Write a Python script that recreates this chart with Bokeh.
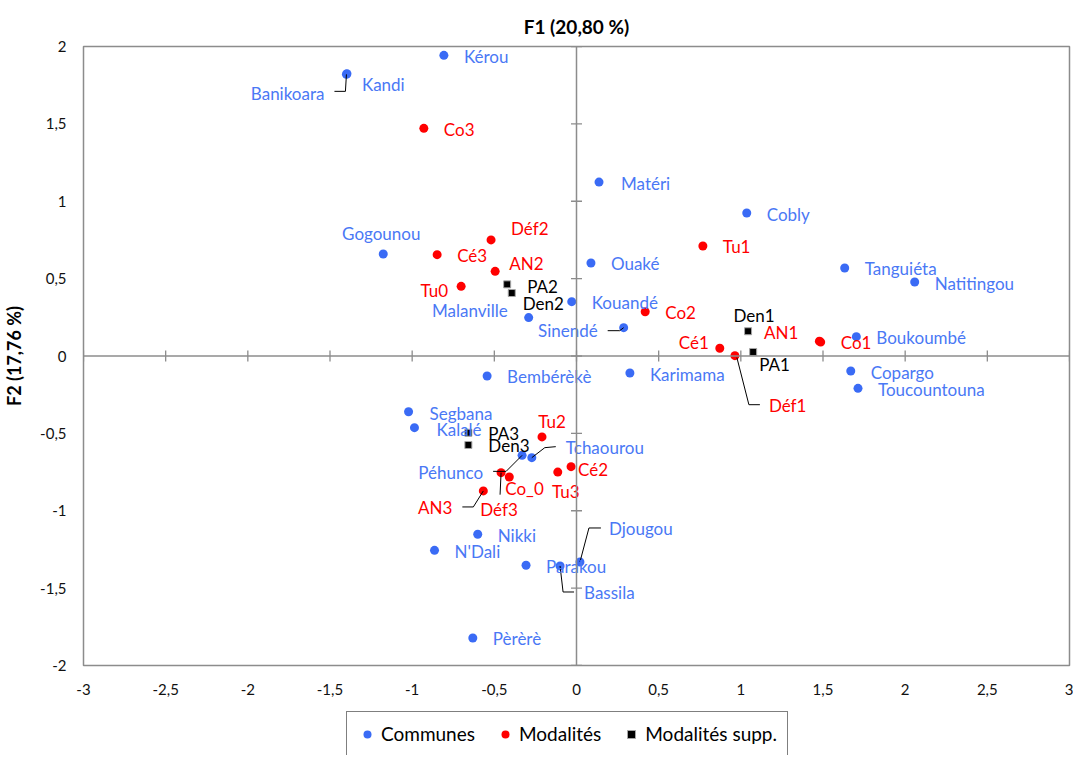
import math
from bokeh.plotting import figure
from bokeh.layouts import column
from bokeh.models import ColumnDataSource, Range1d, FixedTicker, Span, Legend, LegendItem
from bokeh.core.properties import value
from bokeh.embed import file_html
from bokeh.resources import INLINE

# ---------------- data ----------------
communes = ["Kérou", "Kandi", "Banikoara", "Matéri", "Cobly", "Gogounou", "Ouaké",
            "Tanguiéta", "Natitingou", "Kouandé", "Malanville", "Sinendé", "Boukoumbé",
            "Copargo", "Toucountouna", "Bembérèkè", "Karimama", "Segbana", "Kalalé",
            "Péhunco", "Tchaourou", "Djougou", "Parakou", "Bassila", "Nikki", "N'Dali", "Pèrèrè"]
communes_f1 = [-0.807, -1.397, -1.400, 0.137, 1.036, -1.176, 0.088,
               1.632, 2.058, -0.029, -0.291, 0.287, 1.703,
               1.669, 1.713, -0.544, 0.325, -1.022, -0.986,
               -0.331, -0.272, 0.021, -0.307, -0.100, -0.601, -0.864, -0.631]
communes_f2 = [1.943, 1.824, 1.820, 1.124, 0.924, 0.659, 0.601,
               0.569, 0.478, 0.351, 0.248, 0.183, 0.125,
               -0.097, -0.209, -0.129, -0.110, -0.360, -0.463,
               -0.642, -0.657, -1.331, -1.352, -1.357, -1.152, -1.256, -1.822]

modalites = ["Co3", "Déf2", "Cé3", "AN2", "Tu0", "Co2", "Tu1", "Cé1", "Déf1", "AN1", "Co1",
             "Tu2", "Cé2", "Tu3", "Co_0", "Déf3", "AN3"]
modalites_f1 = [-0.929, -0.520, -0.848, -0.495, -0.702, 0.418, 0.769, 0.872, 0.964, 1.478, 1.486,
                -0.210, -0.033, -0.114, -0.409, -0.459, -0.567]
modalites_f2 = [1.471, 0.750, 0.655, 0.547, 0.450, 0.286, 0.711, 0.050, 0.002, 0.096, 0.090,
                -0.523, -0.715, -0.750, -0.782, -0.754, -0.872]

supp = ["PA2", "Den2", "Den1", "PA1", "PA3", "Den3"]
supp_f1 = [-0.422, -0.394, 1.044, 1.075, -0.658, -0.658]
supp_f2 = [0.463, 0.407, 0.160, 0.026, -0.496, -0.575]

x_ticks = [-3, -2.5, -2, -1.5, -1, -0.5, 0, 0.5, 1, 1.5, 2, 2.5, 3]
x_tick_labels = ["-3", "-2,5", "-2", "-1,5", "-1", "-0,5", "0", "0,5", "1", "1,5", "2", "2,5", "3"]
y_ticks = [-2, -1.5, -1, -0.5, 0, 0.5, 1, 1.5, 2]
y_tick_labels = ["-2", "-1,5", "-1", "-0,5", "0", "0,5", "1", "1,5", "2"]

title_text = "F1 (20,80 %)"
y_title_text = "F2 (17,76 %)"
legend_labels = ["Communes", "Modalités", "Modalités supp."]

# ---------------- styles / label placement (screen px) ----------------
FONT = "Lato"
BLUE_DOT = "#3A6BF5"
BLUE_TXT = "#4A78F5"
RED = "#FF0000"
GRAY = "#8C8C8C"

# (dx, dy, align); dy positive = downwards
default_lab = (20, 1, "left")
label_style = {
    "Kérou": (20, 1, "left"), "Kandi": (15, 11, "left"), "Banikoara": (-22, 19, "right"),
    "Matéri": (22, 1, "left"), "Gogounou": (-2, -21, "center"), "Malanville": (-21, -7, "right"),
    "Sinendé": (-26, 3, "right"), "Péhunco": (-39, 17, "right"), "Tchaourou": (34, -10, "left"),
    "Djougou": (29, -33, "left"), "Bassila": (24, 27, "left"), "Segbana": (21, 2, "left"),
    "Kalalé": (22, 2, "left"), "Toucountouna": (20, 1, "left"),
    "Déf2": (20, -11, "left"), "AN2": (14, -8, "left"), "Tu0": (-13, 4, "right"),
    "Cé1": (-11, -6, "right"), "Déf1": (34, 50, "left"), "AN1": (-21, -9, "right"),
    "Co1": (20, 0, "left"), "Tu2": (10, -15, "center"), "Cé2": (7, 3, "left"),
    "Tu3": (8, 19, "center"), "Co_0": (-4, 11, "left"), "Déf3": (-2, 37, "center"),
    "AN3": (-31, 17, "right"),
    "PA2": (20, 2, "left"), "Den2": (11, 10, "left"), "Den1": (6, -16, "center"),
    "PA1": (6, 13, "left"), "PA3": (20, 1, "left"), "Den3": (20, 1, "left"),
}
# leader polylines, px offsets from the point (dy positive = down)
leaders = {
    "Banikoara": [(0, 0), (-1, 17), (-12, 17)],
    "Sinendé": [(0, 0), (-4, 3), (-16, 3)],
    "Péhunco": [(0, 0), (-16, 16), (-29, 16)],
    "Tchaourou": [(0, 0), (13, -10), (24, -11)],
    "Djougou": [(0, 0), (9, -34), (21, -34)],
    "Bassila": [(0, 0), (3, 26), (14, 26)],
    "Déf1": [(2, 2), (14, 49), (25, 49)],
    "Déf3": [(0, 0), (-1, 22)],
    "AN3": [(0, 0), (-10, 16), (-21, 16)],
}

B_LEFT, B_RIGHT, B_TOP, B_BOTTOM = 82, 4, 46, 36
FRAME_W, FRAME_H = 987, 619
X0, X1, Y0, Y1 = -3, 3, -2, 2
PX_X = FRAME_W / (X1 - X0)
PX_Y = FRAME_H / (Y1 - Y0)
TOTAL_W = B_LEFT + FRAME_W + B_RIGHT
LEG_H = 54

p = figure(width=TOTAL_W, height=B_TOP + FRAME_H + B_BOTTOM,
           x_range=Range1d(X0, X1), y_range=Range1d(Y0, Y1),
           min_border_left=B_LEFT, min_border_right=B_RIGHT,
           min_border_top=B_TOP, min_border_bottom=B_BOTTOM,
           output_backend="svg", toolbar_location=None, background_fill_color="white",
           border_fill_color="white")

p.grid.visible = False
p.outline_line_color = GRAY
p.outline_line_width = 1.5

# title
p.title.text = title_text
p.title.align = "center"
p.title.text_font = FONT
p.title.text_font_size = "19px"
p.title.text_font_style = "bold"
p.title.text_color = "#000000"
p.title.standoff = 18

for ax in (p.xaxis[0], p.yaxis[0]):
    ax.axis_line_color = None
    ax.major_tick_line_color = None
    ax.minor_tick_line_color = None
    ax.major_tick_out = 0
    ax.major_tick_in = 0
    ax.major_label_text_font = FONT
    ax.major_label_text_font_size = "15px"
    ax.major_label_text_color = "#111111"

p.xaxis[0].ticker = FixedTicker(ticks=x_ticks)
p.xaxis[0].major_label_overrides = {t: l for t, l in zip(x_ticks, x_tick_labels)}
p.xaxis[0].major_label_standoff = 18
p.yaxis[0].ticker = FixedTicker(ticks=y_ticks)
p.yaxis[0].major_label_overrides = {t: l for t, l in zip(y_ticks, y_tick_labels)}
p.yaxis[0].major_label_standoff = 17
p.yaxis[0].axis_label = y_title_text
p.yaxis[0].axis_label_text_font = FONT
p.yaxis[0].axis_label_text_font_size = "18px"
p.yaxis[0].axis_label_text_font_style = "bold"
p.yaxis[0].axis_label_text_color = "#000000"
p.yaxis[0].axis_label_standoff = 12

# centre axes with crossing ticks
p.add_layout(Span(location=0, dimension="height", line_color=GRAY, line_width=1.5))
p.add_layout(Span(location=0, dimension="width", line_color=GRAY, line_width=1.5))
p.scatter(x=x_ticks, y=[0] * len(x_ticks), marker="dash", size=11, angle=math.pi / 2,
          line_color=GRAY, line_width=1.3)
p.scatter(x=[0] * len(y_ticks), y=y_ticks, marker="dash", size=11, angle=0,
          line_color=GRAY, line_width=1.3)


def make_source(names, xs, ys):
    dx, dy, al = [], [], []
    for n in names:
        s = label_style.get(n, default_lab)
        dx.append(s[0]); dy.append(s[1]); al.append(s[2])
    return ColumnDataSource(dict(x=xs, y=ys, name=names, dx=dx, dy=dy, align=al))


src_c = make_source(communes, communes_f1, communes_f2)
src_m = make_source(modalites, modalites_f1, modalites_f2)
src_s = make_source(supp, supp_f1, supp_f2)

STY_C = dict(marker="circle", size=9, fill_color=BLUE_DOT, line_color=None)
STY_M = dict(marker="circle", size=9, fill_color=RED, line_color=None)
STY_S = dict(marker="square", size=7, fill_color="#000000", line_color="#A6A6A6", line_width=1)

p.scatter("x", "y", source=src_c, **STY_C)
p.scatter("x", "y", source=src_m, **STY_M)
p.scatter("x", "y", source=src_s, **STY_S)

# leader lines
all_pts = {}
for names, xs, ys in ((communes, communes_f1, communes_f2),
                      (modalites, modalites_f1, modalites_f2),
                      (supp, supp_f1, supp_f2)):
    for n, x, y in zip(names, xs, ys):
        all_pts[n] = (x, y)
lx, ly = [], []
for n, path in leaders.items():
    x, y = all_pts[n]
    lx.append([x + a / PX_X for a, b in path])
    ly.append([y - b / PX_Y for a, b in path])
p.multi_line(lx, ly, line_color="#000000", line_width=1)

for src, col in ((src_c, BLUE_TXT), (src_m, RED), (src_s, "#000000")):
    p.text("x", "y", text="name", source=src, x_offset="dx", y_offset="dy",
           text_align="align", text_baseline="middle", text_color=col,
           text_font=value(FONT), text_font_size="17px")

# ---------------- legend strip (separate canvas below the plot) ----------------
pl = figure(width=TOTAL_W, height=LEG_H, x_range=Range1d(0, 1), y_range=Range1d(0, 1),
            x_axis_location=None, y_axis_location=None,
            min_border_left=0, min_border_right=0, min_border_top=0, min_border_bottom=0,
            output_backend="svg", toolbar_location=None, outline_line_color=None)
pl.grid.visible = False
# legend proxies: one point each, placed outside the visible range of the strip
l_c = pl.scatter(x=[-5], y=[-5], **STY_C)
l_m = pl.scatter(x=[-5], y=[-5], **STY_M)
l_s = pl.scatter(x=[-5], y=[-5], **STY_S)

# the strip's frame is aligned with the main frame (starts B_LEFT px from the page edge)
legend = Legend(items=[LegendItem(label=legend_labels[0], renderers=[l_c]),
                       LegendItem(label=legend_labels[1], renderers=[l_m]),
                       LegendItem(label=legend_labels[2], renderers=[l_s])],
                orientation="horizontal", location=(345 - B_LEFT, -1),
                glyph_width=20, glyph_height=20, label_standoff=4, spacing=20,
                padding=10, border_line_color="#000000", border_line_width=1,
                label_text_font=FONT, label_text_font_size="19px",
                label_text_color="#000000", background_fill_alpha=1)
pl.add_layout(legend)

layout = column(p, pl, spacing=0)
open("out.html", "w").write(file_html(layout, INLINE))
